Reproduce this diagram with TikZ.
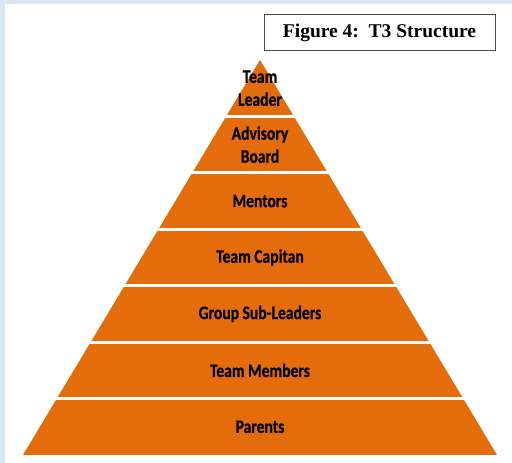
\documentclass[tikz,border=0pt]{standalone}
\usepackage{fontspec}
\setmainfont{Liberation Serif}
\newfontfamily\layerfont[FakeStretch=0.82,BoldFeatures={FakeBold=0.6}]{Carlito}
\usepackage{tikz}

\definecolor{pyrorange}{HTML}{E46C0A}
\definecolor{pagebg}{HTML}{DCE6F2}

\begin{document}
\begin{tikzpicture}[x=1pt,y=1pt,
	every node/.style={black},
	layer/.style={align=center,font=\layerfont\bfseries\fontsize{19}{23}\selectfont,text=black},
	gap/.style={white,line width=3pt}]
	\useasboundingbox (0,0) rectangle (512,463);
	\fill[pagebg] (0,0) rectangle (512,463);
	\fill[white] (5,0) rectangle (512,459);

	\coordinate (A) at (260,403);
	\coordinate (L) at (23,8);
	\coordinate (R) at (497,8);

	\fill[pyrorange] (A) -- (R) -- (L) -- cycle;

	\draw[gap] (200,346.6) -- (320,346.6);
	\draw[gap] (170,290.1) -- (350,290.1);
	\draw[gap] (130,233.7) -- (390,233.7);
	\draw[gap] (100,177.3) -- (420,177.3);
	\draw[gap] (70,120.9) -- (450,120.9);
	\draw[gap] (30,64.4) -- (490,64.4);

	\node[layer] (leader) at (260,374.8) {Team\\Leader};
	\node[layer] (board) at (260,318.4) {Advisory\\Board};
	\node[layer] (mentors) at (260,261.9) {Mentors};
	\node[layer] (capitan) at (260,205.5) {Team Capitan};
	\node[layer] (subleaders) at (260,149.1) {Group Sub-Leaders};
	\node[layer] (members) at (260,92.6) {Team Members};
	\node[layer] (parents) at (260,36.2) {Parents};

	\node[draw=black!70,line width=1pt,minimum width=231pt,minimum height=36pt,
		font=\bfseries\fontsize{19.5}{23}\selectfont] (title) at (379.5,430) {Figure 4:\ \ T3 Structure};
\end{tikzpicture}
\end{document}
